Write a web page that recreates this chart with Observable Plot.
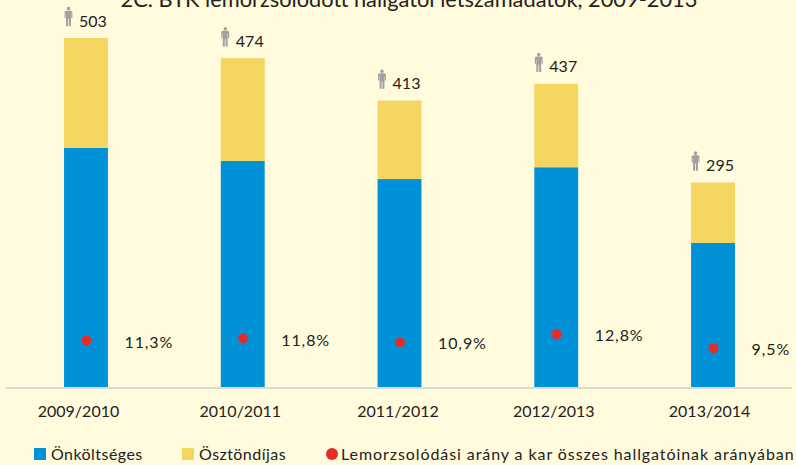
<!DOCTYPE html>
<html lang="hu"><head><meta charset="utf-8">
<script src="https://cdn.jsdelivr.net/npm/d3@7"></script>
<script src="https://cdn.jsdelivr.net/npm/@observablehq/plot@0.6"></script>
<style>
html,body{margin:0;padding:0;background:#FFFBDC;width:796px;height:465px;overflow:hidden}
#wrap{position:relative;width:796px;height:465px;font-family:Lato,sans-serif;color:#222}
svg{display:block;background:transparent!important}
.rate text{letter-spacing:.9px}
.lg{position:absolute;top:444px;font-size:16px;line-height:20px;white-space:nowrap;letter-spacing:.45px}
.sw{position:absolute;top:448px;width:12px;height:12px}
</style></head><body><div id="wrap"></div>
<script>
const years = ["2009/2010","2010/2011","2011/2012","2012/2013","2013/2014"];
const selfFunded = [345,326,300,317,208];
const scholarship = [158,148,113,120,87];
const totals = [503,474,413,437,295];
const rates = [11.3,11.8,10.9,12.8,9.5];
const rateLabels = ["11,3%","11,8%","10,9%","12,8%","9,5%"];
const seriesNames = ["Önköltséges","Ösztöndíjas"];
const seriesColors = ["#0091D7","#F4D660"];
const rateName = "Lemorzsolódási arány a kar összes hallgatóinak arányában";
const rateColor = "#E62B27";
const title = "2C. BTK lemorzsolódott hallgatói létszámadatok, 2009-2013";
const rateFactor = 6.04; // rates share the bar axis on a secondary scale

const stack = years.flatMap((y,i)=>[
  {year:y,series:seriesNames[0],value:selfFunded[i]},
  {year:y,series:seriesNames[1],value:scholarship[i]}]);
const tot = years.map((y,i)=>({year:y,total:totals[i]}));
const rt = years.map((y,i)=>({year:y,rate:rates[i]*rateFactor,label:rateLabels[i]}));

const person = {draw(c,size){
  const k=Math.sqrt(size)/20;
  const p=[[-2.6,-6],[2.6,-6],[4,-5],[4,1.5],[2.8,1.5],[2.8,-3],[2.5,-3],[2.5,10],[.4,10],[.4,2.5],[-.4,2.5],[-.4,10],[-2.5,10],[-2.5,-3],[-2.8,-3],[-2.8,1.5],[-4,1.5],[-4,-5]];
  c.moveTo(p[0][0]*k,p[0][1]*k);
  p.slice(1).forEach(q=>c.lineTo(q[0]*k,q[1]*k));
  c.closePath();
  c.moveTo(1.8*k,-8.1*k);c.arc(0,-8.1*k,1.8*k,0,2*Math.PI);
  c.closePath();
}};

// the reference's category labels sit slightly left of their bars, by varying amounts
const tickNudge = [-8,-3,-2,-3,-4];

const chart = Plot.plot({
  width:796,height:430,
  marginTop:0,marginBottom:42.5,marginLeft:6,marginRight:4,
  style:{background:"transparent",fontFamily:"Lato,sans-serif",color:"#222"},
  x:{domain:years,range:[7.6,791.4],paddingInner:.72,paddingOuter:.36,round:false,label:null,axis:null},
  y:{domain:[0,503],range:[387.5,38],axis:null},
  color:{domain:seriesNames,range:seriesColors},
  marks:[
    Plot.barY(stack,{x:"year",y:"value",fill:"series",order:seriesNames}),
    Plot.ruleY([0],{stroke:"#D9D9D9",strokeWidth:2}),
    ...years.map((y,i)=>Plot.axisX([y],{tickSize:0,tickPadding:18,fontSize:16,fill:"#222",dx:tickNudge[i],label:null})),
    Plot.dot(tot,{x:"year",y:"total",dx:-18,dy:-22,symbol:person,r:11,fill:"#A0A0A0",stroke:"none"}),
    Plot.text(tot,{x:"year",y:"total",text:"total",dx:6.5,dy:-17,fontSize:16,fill:"#222"}),
    Plot.dot(rt,{x:"year",y:"rate",r:5,fill:rateColor}),
    Plot.text(rt,{x:"year",y:"rate",text:"label",dx:38,textAnchor:"start",dy:2,fontSize:16,fill:"#222",className:"rate"}),
    Plot.text([title],{frameAnchor:"top-left",dx:114,dy:-9,textAnchor:"start",lineAnchor:"top",fontSize:21.8,fill:"#222"})
  ]
});
const wrap=document.getElementById("wrap");
wrap.appendChild(chart);
const add=(cls,left,txt,bg,round,ls)=>{const e=document.createElement("div");e.className=cls;e.style.left=left+"px";
  if(txt)e.textContent=txt; if(bg)e.style.background=bg; if(round)e.style.borderRadius="50%"; if(ls)e.style.letterSpacing=ls+"px"; wrap.appendChild(e);};
add("sw",34,null,seriesColors[0]); add("lg",51,seriesNames[0]);
add("sw",182,null,seriesColors[1]); add("lg",199,seriesNames[1]);
add("sw",326,null,rateColor,true); add("lg",341,rateName,null,false,.92);
</script></body></html>
